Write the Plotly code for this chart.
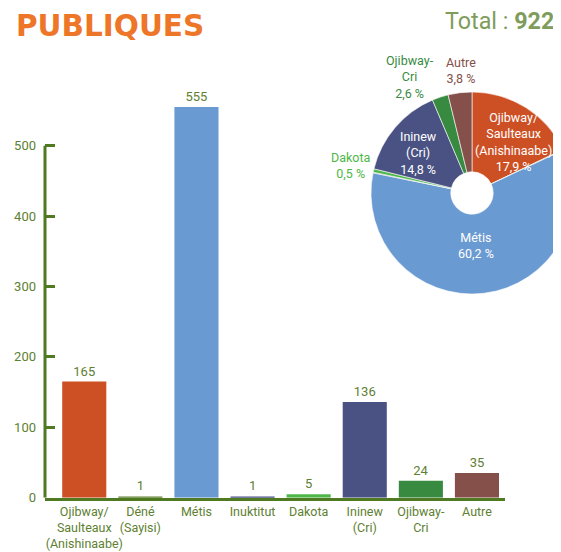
import plotly.graph_objects as go

# ---- data ----
categories = ["Ojibway/<br>Saulteaux<br>(Anishinaabe)", "Déné<br>(Sayisi)", "Métis", "Inuktitut",
              "Dakota", "Ininew<br>(Cri)", "Ojibway-<br>Cri", "Autre"]
counts = [165, 1, 555, 1, 5, 136, 24, 35]
pie_pct = ["17,9 %", "0,1 %", "60,2 %", "0,1 %", "0,5 %", "14,8 %", "2,6 %", "3,8 %"]
pie_names = ["Ojibway/<br>Saulteaux<br>(Anishinaabe)", "", "Métis", "", "Dakota",
             "Ininew<br>(Cri)", "Ojibway-<br>Cri", "Autre"]
total = 922
y_ticks = [0, 100, 200, 300, 400, 500]

# ---- styles ----
colors = ["#CD5025", "#5B7F2C", "#6A9AD2", "#474E87", "#4DB748", "#4A5283", "#378A3F", "#845049"]
label_colors = ["white", None, "white", None, "#4DB748", "white", "#378A3F", "#845049"]
# label centres in screen pixels (x, y); None = no label
label_xy = [(513, 142), None, (476, 245), None, (351, 165), (418, 153), (410, 77), (461, 70)]

OFF = 8            # page body margin
W, H = 600, 560    # figure larger than the viewport; overflow is cropped
GREEN = "#4F7A22"
TXT = "#5E8032"
FONT = "Roboto"


def px(x):
    return (x - OFF) / W


def py(y):
    return 1 - (y - OFF) / H


fig = go.Figure()
fig.add_trace(go.Bar(
    x=list(range(len(counts))), y=counts, marker_color=colors, marker_line_width=0,
    text=[str(v) for v in counts], textposition="outside", cliponaxis=False,
    textfont=dict(family=FONT, size=13, color=TXT), width=0.786, showlegend=False,
))

cx, cy, r = 472, 193, 101
fig.add_trace(go.Pie(
    values=counts, labels=[c.replace("<br>", " ") for c in categories],
    marker=dict(colors=colors, line=dict(color="white", width=0.6)),
    textinfo="none", hole=0.21, sort=False, direction="clockwise", rotation=0,
    domain=dict(x=[px(cx - r), px(cx + r)], y=[py(cy + r), py(cy - r)]),
    showlegend=False,
))

annotations = [
    dict(text="<b>PUBLIQUES</b>", x=px(15), y=1, xref="paper", yref="paper",
         xanchor="left", yanchor="top", showarrow=False, borderpad=0,
         font=dict(family="DejaVu Sans", size=29.5, color="#EE7628")),
    dict(text=f"Total : <b>{total}</b>", x=px(556), y=py(21), xref="paper", yref="paper",
         xanchor="right", yanchor="middle", showarrow=False,
         font=dict(family=FONT, size=23.3, color="#7E9C5B")),
]
for name, pct, col, xy in zip(pie_names, pie_pct, label_colors, label_xy):
    if xy is None:
        continue
    annotations.append(dict(text=f"{name}<br>{pct}", x=px(xy[0]), y=py(xy[1]),
                            xref="paper", yref="paper", xanchor="center", yanchor="middle",
                            showarrow=False, align="center",
                            font=dict(family=FONT, size=12.5, color=col)))

fig.update_layout(
    width=W, height=H, margin=dict(l=0, r=0, t=0, b=0),
    paper_bgcolor="white", plot_bgcolor="white",
    xaxis=dict(domain=[px(45), px(505)], range=[-0.7, 7.5], tickvals=list(range(len(categories))),
               ticktext=categories, tickangle=0, showgrid=False, zeroline=False, showline=True,
               linecolor=GREEN, linewidth=3, ticks="", automargin=False,
               tickfont=dict(family=FONT, size=12.5, color=TXT)),
    yaxis=dict(domain=[py(497.7), py(82.4)], range=[0, 590], tickvals=y_ticks, showgrid=False,
               zeroline=False, showline=False, ticks="inside", ticklen=10, tickwidth=3,
               tickcolor=GREEN, automargin=False, ticklabelstandoff=8,
               tickfont=dict(family=FONT, size=13, color=TXT)),
    shapes=[dict(type="line", xref="x domain", yref="y", x0=0, x1=0, y0=0, y1=y_ticks[-1],
                 line=dict(color=GREEN, width=3))],
    annotations=annotations,
)
fig.write_html("out.html")
